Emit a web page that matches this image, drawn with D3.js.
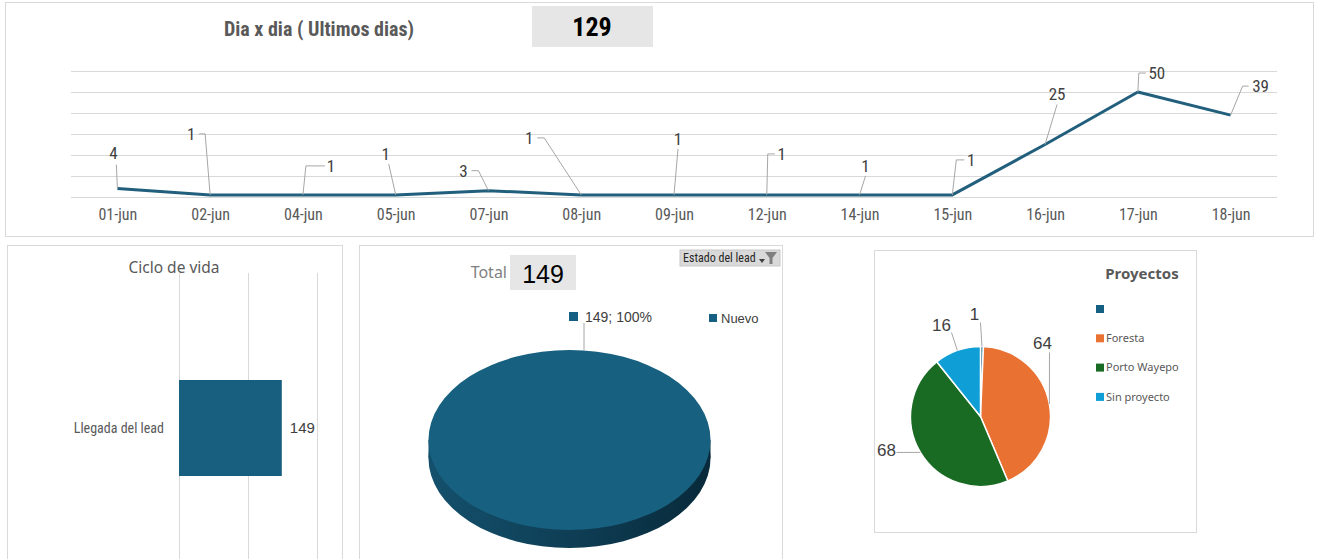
<!DOCTYPE html>
<html>
<head>
<meta charset="utf-8">
<script src="https://cdn.jsdelivr.net/npm/d3@7"></script>
<title>Leads - tablero</title>
<style>
body { margin: 0; background: #fff; }
svg { display: block; }
.narrow { font-family: "Liberation Sans Narrow", "Roboto Condensed", "Liberation Sans", sans-serif; }
.sans { font-family: "Noto Sans", "Open Sans", sans-serif; }
.arial { font-family: "Liberation Sans", Arial, sans-serif; }
.panel { fill: #fff; stroke: #d9d9d9; stroke-width: 1; }
.grid line { stroke: #d9d9d9; stroke-width: 1; }
.leader { fill: none; stroke: #a6a6a6; stroke-width: 1; }
</style>
</head>
<body>
<svg width="1329" height="559"></svg>
<script>

// ---- data ----
let days = ["01-jun","02-jun","04-jun","05-jun","07-jun","08-jun","09-jun","12-jun","14-jun","15-jun","16-jun","17-jun","18-jun"];
let leadsPerDay = [4,1,1,1,3,1,1,1,1,1,25,50,39];
let dayTicks = [0,10,20,30,40,50,60];
let totalDays = 129;

let lifeStages = ["Llegada del lead"];
let lifeValues = [149];
let lifeTicks = [0,100,200];

let estados = ["Nuevo"];
let estadoValues = [149];
let totalEstados = 149;

let proyectos = ["","Foresta","Porto Wayepo","Sin proyecto"];
let proyectoValues = [1,64,68,16];

// ---- styling (label placement, colors) ----
// [dx, dy] label from point, [sx, sy] leader start from label, [ex, ey] elbow from label
let dayLabelPos = [
  [-4,-36, 3,12, 3,12],
  [-19,-61, 8,0, 14,0],
  [28,-29, -6,0, -25,0],
  [-10,-41, 3,10, 3,10],
  [-25,-20, 8,0, 15,0],
  [-52,-57, 8,0, 15,0],
  [4,-56, 0,10, 0,10],
  [15,-41, -7,0, -14,0],
  [6,-29, 0,10, 0,10],
  [19,-35, -7,0, -15,0],
  [12,-50, 0,10, 0,10],
  [19,-19, -11,0, -18,0],
  [30,-29, -12,0, -18,0]
];
let proyectoColors = ["#156082","#e97132","#196b24","#0f9ed5"];
// label offset from pie center, leader start offset from label
let proyectoLabelPos = [
  [-6,-102, 6,8],
  [62,-73, 7,9],
  [-94,34, 10,2],
  [-39,-91, 10,7]
];
let blue = "#156082";

let svg = d3.select("svg");

// ================= Dia x dia =================
svg.append("rect").attr("class","panel").attr("x",5.5).attr("y",2.5).attr("width",1308).attr("height",234);

svg.append("text").attr("class","narrow")
  .attr("x",319).attr("y",36).attr("text-anchor","middle")
  .attr("font-size",20).attr("font-weight","bold").attr("fill","#595959")
  .text("Dia x dia ( Ultimos dias)");
svg.append("rect").attr("x",532).attr("y",6).attr("width",121).attr("height",41).attr("fill","#e7e6e6");
svg.append("text").attr("class","narrow")
  .attr("x",592).attr("y",36).attr("text-anchor","middle")
  .attr("font-size",26).attr("font-weight","bold").attr("fill","#000")
  .text(totalDays);

let xDay = d3.scalePoint().domain(days).range([71,1277]).padding(0.5);
let yDay = d3.scaleLinear().domain([0,60]).range([197,71]);

let gGrid = svg.append("g").attr("class","grid").attr("transform","translate(71,0)")
  .call(d3.axisLeft(yDay).tickValues(dayTicks).tickSize(-1206).tickFormat(""));
gGrid.select(".domain").remove();

let gx = svg.append("g").attr("transform","translate(0,197)")
  .call(d3.axisBottom(xDay).tickSize(0).tickPadding(12));
gx.select(".domain").remove();
gx.selectAll("text").attr("class","narrow").attr("font-size",16).attr("fill","#595959");

let line = d3.line().x((d,i) => xDay(days[i])).y(d => yDay(d));
svg.append("path").datum(leadsPerDay)
  .attr("d",line).attr("fill","none").attr("stroke","#215f7c")
  .attr("stroke-width",3).attr("stroke-linejoin","round");

let dayLabels = svg.append("g").selectAll("g").data(leadsPerDay).enter().append("g");
dayLabels.append("polyline").attr("class","leader")
  .attr("points",function(d,i){
    let p = dayLabelPos[i];
    let px = xDay(days[i]), py = yDay(d);
    let lx = px + p[0], ly = py + p[1];
    return [[lx+p[2],ly+p[3]],[lx+p[4],ly+p[5]],[px,py]].map(q => q.join(",")).join(" ");
  });
dayLabels.append("text").attr("class","narrow")
  .attr("x",(d,i) => xDay(days[i]) + dayLabelPos[i][0])
  .attr("y",(d,i) => yDay(d) + dayLabelPos[i][1])
  .attr("dy","0.35em").attr("text-anchor","middle")
  .attr("font-size",17).attr("fill","#404040")
  .text(d => d);

// ================= Ciclo de vida =================
svg.append("rect").attr("class","panel").attr("x",7.5).attr("y",245.5).attr("width",335).attr("height",330);
svg.append("text").attr("class","sans")
  .attr("x",174).attr("y",273).attr("text-anchor","middle")
  .attr("font-size",15.5).attr("fill","#595959").text("Ciclo de vida");

let xLife = d3.scaleLinear().domain([0,200]).range([179,317]);
let yLife = d3.scaleBand().domain(lifeStages).range([273,583]).padding(0.527);

let gLife = svg.append("g").attr("class","grid").attr("transform","translate(0,583)")
  .call(d3.axisBottom(xLife).tickValues(lifeTicks).tickSize(-310).tickFormat(""));
gLife.select(".domain").remove();

svg.append("g").selectAll("rect").data(lifeValues).enter().append("rect")
  .attr("x",xLife(0)).attr("y",(d,i) => yLife(lifeStages[i]))
  .attr("width",d => xLife(d) - xLife(0)).attr("height",yLife.bandwidth())
  .attr("fill","#175e7f");
svg.append("g").selectAll("text").data(lifeValues).enter().append("text").attr("class","arial")
  .attr("x",d => xLife(d) + 8).attr("y",(d,i) => yLife(lifeStages[i]) + yLife.bandwidth()/2)
  .attr("dy","0.35em").attr("font-size",15).attr("fill","#404040").text(d => d);
svg.append("g").selectAll("text").data(lifeStages).enter().append("text").attr("class","narrow")
  .attr("x",164).attr("y",d => yLife(d) + yLife.bandwidth()/2)
  .attr("dy","0.35em").attr("text-anchor","end")
  .attr("font-size",14).attr("fill","#595959").text(d => d);

// ================= Estado del lead (3D pie) =================
svg.append("rect").attr("class","panel").attr("x",359.5).attr("y",245.5).attr("width",423).attr("height",330);
svg.append("text").attr("class","sans")
  .attr("x",507).attr("y",278).attr("text-anchor","end")
  .attr("font-size",16).attr("fill","#7f7f7f").text("Total");
svg.append("rect").attr("x",510).attr("y",255).attr("width",66).attr("height",35).attr("fill","#e7e6e6");
svg.append("text").attr("class","arial")
  .attr("x",543).attr("y",283).attr("text-anchor","middle")
  .attr("font-size",25).attr("fill","#000").text(totalEstados);

// filter button
svg.append("rect").attr("x",680).attr("y",250).attr("width",100).attr("height",16)
  .attr("fill","#d9d9d9").attr("stroke","#c8c8c8");
svg.append("text").attr("class","narrow")
  .attr("x",683).attr("y",262).attr("font-size",12).attr("fill","#262626").text("Estado del lead");
svg.append("path").attr("d","M759,259 L765,259 L762,263 Z").attr("fill","#404040");
svg.append("path").attr("d","M765,252 L777,252 L772.5,258 L772.5,264 L769.5,264 L769.5,258 Z").attr("fill","#7f7f7f");

let cx = 569.5, cy = 440, rx = 141, ry = 90, depth = 18, k = ry / rx;
let defs = svg.append("defs");
let grad = defs.append("linearGradient").attr("id","side").attr("x1","0").attr("x2","1").attr("y1","0").attr("y2","0");
grad.append("stop").attr("offset","0%").attr("stop-color","#14506c");
grad.append("stop").attr("offset","45%").attr("stop-color","#0f4058");
grad.append("stop").attr("offset","100%").attr("stop-color","#082a3a");

let pieEstado = d3.pie().sort(null)(estadoValues);
let arcEstado = d3.arc().innerRadius(0).outerRadius(rx);
let gPie3d = svg.append("g").attr("transform","translate(" + cx + "," + cy + ") scale(1," + k + ")");
gPie3d.append("rect").attr("x",-rx).attr("y",0).attr("width",2*rx).attr("height",depth/k).attr("fill","url(#side)");
gPie3d.selectAll("path.bottom").data(pieEstado).enter().append("path").attr("class","bottom")
  .attr("transform","translate(0," + depth/k + ")")
  .attr("d",arcEstado).attr("fill","url(#side)");
gPie3d.selectAll("path.top").data(pieEstado).enter().append("path").attr("class","top")
  .attr("d",arcEstado).attr("fill","#17607f");

// data label + legend
svg.append("line").attr("class","leader").attr("x1",584).attr("x2",584).attr("y1",323).attr("y2",cy-ry);
svg.append("rect").attr("x",569).attr("y",312).attr("width",9).attr("height",9).attr("fill",blue);
svg.append("text").attr("class","arial")
  .attr("x",585).attr("y",317).attr("dy","0.35em").attr("font-size",14).attr("fill","#404040")
  .text(estadoValues[0] + "; " + d3.format(".0%")(estadoValues[0] / d3.sum(estadoValues)));
let legEstado = svg.append("g").selectAll("g").data(estados).enter().append("g");
legEstado.append("rect").attr("x",709).attr("y",(d,i) => 314 + i*20).attr("width",8).attr("height",8).attr("fill",blue);
legEstado.append("text").attr("class","arial")
  .attr("x",721).attr("y",(d,i) => 318 + i*20).attr("dy","0.35em")
  .attr("font-size",13).attr("fill","#404040").text(d => d);

// ================= Proyectos =================
svg.append("rect").attr("class","panel").attr("x",874.5).attr("y",250.5).attr("width",322).attr("height",282);
svg.append("text").attr("class","sans")
  .attr("x",1142).attr("y",279).attr("text-anchor","middle")
  .attr("font-size",15).attr("font-weight","bold").attr("fill","#595959").text("Proyectos");

let pcx = 980.5, pcy = 416.5, pr = 70;
let pieProy = d3.pie().sort(null)(proyectoValues);
let arcProy = d3.arc().innerRadius(0).outerRadius(pr);
let gProy = svg.append("g").attr("transform","translate(" + pcx + "," + pcy + ")");
gProy.selectAll("path").data(pieProy).enter().append("path")
  .attr("d",arcProy).attr("fill",(d,i) => proyectoColors[i])
  .attr("stroke","#fff").attr("stroke-width",1.5).attr("stroke-linejoin","round");

let proyLabels = gProy.selectAll("g.lab").data(pieProy).enter().append("g").attr("class","lab");
proyLabels.append("polyline").attr("class","leader")
  .attr("points",function(d,i){
    let p = proyectoLabelPos[i];
    let a = (d.startAngle + d.endAngle) / 2;
    let ex = pr * Math.sin(a), ey = -pr * Math.cos(a);
    return [[p[0]+p[2],p[1]+p[3]],[ex,ey]].map(q => q.join(",")).join(" ");
  });
proyLabels.append("text").attr("class","arial")
  .attr("x",(d,i) => proyectoLabelPos[i][0]).attr("y",(d,i) => proyectoLabelPos[i][1])
  .attr("dy","0.35em").attr("text-anchor","middle")
  .attr("font-size",17).attr("fill","#404040").text(d => d.data);

let legProy = svg.append("g").selectAll("g").data(proyectos).enter().append("g");
legProy.append("rect").attr("x",1096).attr("y",(d,i) => 305 + i*29.3).attr("width",8).attr("height",8)
  .attr("fill",(d,i) => proyectoColors[i]);
legProy.append("text").attr("class","sans")
  .attr("x",1106).attr("y",(d,i) => 309 + i*29.3).attr("dy","0.35em")
  .attr("font-size",11).attr("fill","#595959").text(d => d);

</script>
</body>
</html>
